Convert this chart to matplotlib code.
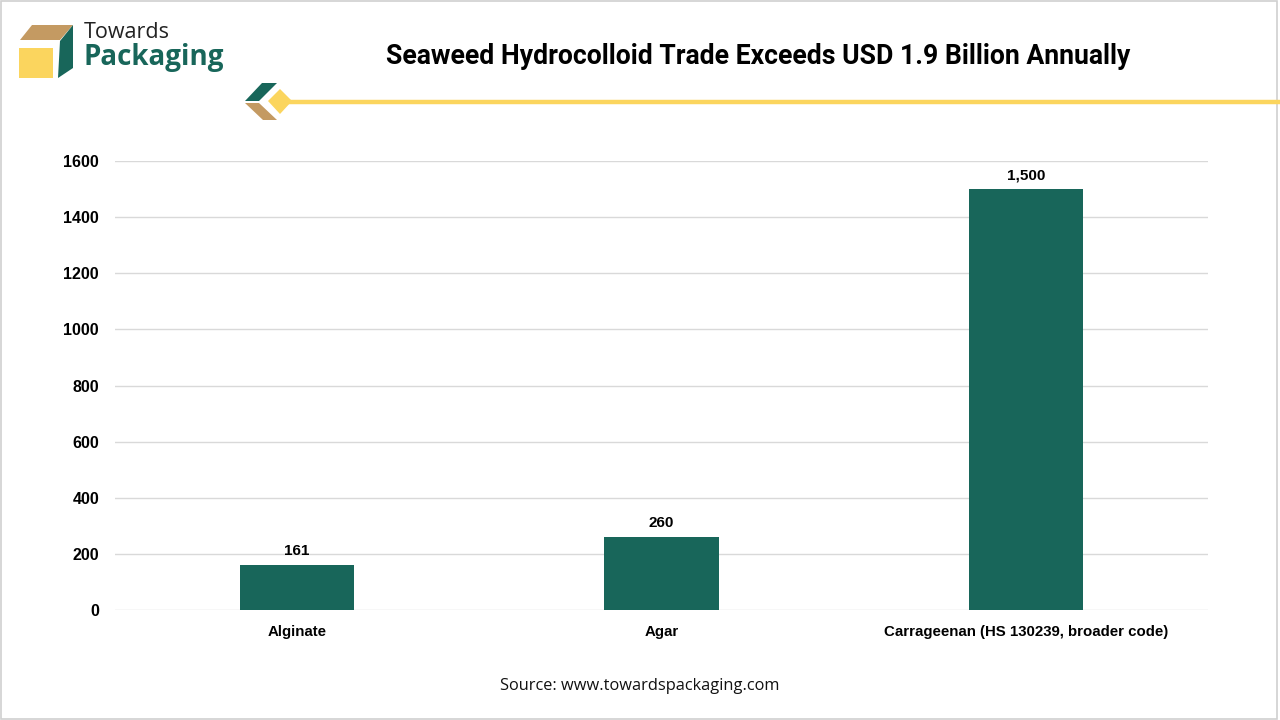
import matplotlib
matplotlib.use("Agg")
import matplotlib.pyplot as plt
from matplotlib.patches import Polygon, Rectangle
from matplotlib.lines import Line2D

# chart data
categories = ["Alginate", "Agar", "Carrageenan (HS 130239, broader code)"]
values = [161, 260, 1500]
value_labels = ["161", "260", "1,500"]
y_ticks = [0, 200, 400, 600, 800, 1000, 1200, 1400, 1600]

GREEN = "#18665a"
TAN = "#c49a62"
YELLOW = "#fbd55e"
W, H = 1280, 720


def px(x, y):
    # pixel coords (top-left origin) -> figure fraction
    return (x / W, 1 - y / H)


def poly(fig, pts, color):
    fig.patches.append(Polygon([px(*p) for p in pts], closed=True,
                               transform=fig.transFigure, color=color, lw=0))


fig = plt.figure(figsize=(12.8, 7.2), dpi=100)
fig.patch.set_facecolor("white")

# thin frame round the whole picture
fig.patches.append(Rectangle((0.001, 0.002), 0.997, 0.996, transform=fig.transFigure,
                             fill=False, edgecolor="#d0d0d0", lw=1.2))

# logo cube
poly(fig, [(20, 40), (32, 25), (73, 25), (60, 40)], TAN)
poly(fig, [(60, 41), (73, 25), (73, 68), (58, 78)], GREEN)
poly(fig, [(19, 48), (53, 48), (53, 78), (19, 78)], YELLOW)
fig.text(*px(84, 32), "Towards", fontsize=15.5, family="Open Sans", color="#222222",
         va="center", ha="left")
fig.text(*px(83, 58), "Packaging", fontsize=20, family="Open Sans", weight="bold",
         color=GREEN, va="center", ha="left")

# decorative chevron + line under the title
poly(fig, [(245, 101), (262, 83), (277, 83), (259, 101)], GREEN)
poly(fig, [(245, 103), (259, 103), (277, 120), (263, 120)], TAN)
fig.add_artist(Line2D([288 / W, 1], [1 - 102 / H] * 2, transform=fig.transFigure,
                      color=YELLOW, lw=3.2))
poly(fig, [(280, 89), (292, 101), (280, 114), (268, 101)], YELLOW)

fig.text(758 / W, 1 - 56 / H, "Seaweed Hydrocolloid Trade Exceeds USD 1.9 Billion Annually",
         fontsize=19.2, family="Roboto", weight="bold", ha="center", va="center",
         color="black")

# main bar chart
ax = fig.add_axes([115 / W, 1 - 610 / H, (1208 - 115) / W, (610 - 161) / H])
x = range(len(categories))
bars = ax.bar(x, values, width=0.313, color=GREEN, zorder=3)
for b, lab in zip(bars, value_labels):
    ax.text(b.get_x() + b.get_width() / 2, b.get_height() + 25, lab,
            ha="center", va="bottom", fontsize=11, weight="bold",
            family="Liberation Sans")

ax.set_xlim(-0.5, 2.5)
ax.set_ylim(0, 1600)
ax.set_yticks(y_ticks)
ax.set_yticklabels([str(t) for t in y_ticks], fontsize=11.5, weight="bold",
                   family="Liberation Sans")
ax.set_xticks(list(x))
ax.set_xticklabels(categories, fontsize=10.8, weight="bold", family="Liberation Sans")
ax.tick_params(axis="both", length=0)
ax.tick_params(axis="y", pad=11.5)
ax.tick_params(axis="x", pad=10.5)
ax.grid(axis="y", color="#d9d9d9", lw=1, zorder=0)
for s in ax.spines.values():
    s.set_visible(False)

fig.text(0.5, 1 - 686 / H, "Source: www.towardspackaging.com", fontsize=11.8,
         family="Open Sans", ha="center", va="center", color="#111111")

fig.savefig("out.png", dpi=100)
plt.close(fig)
